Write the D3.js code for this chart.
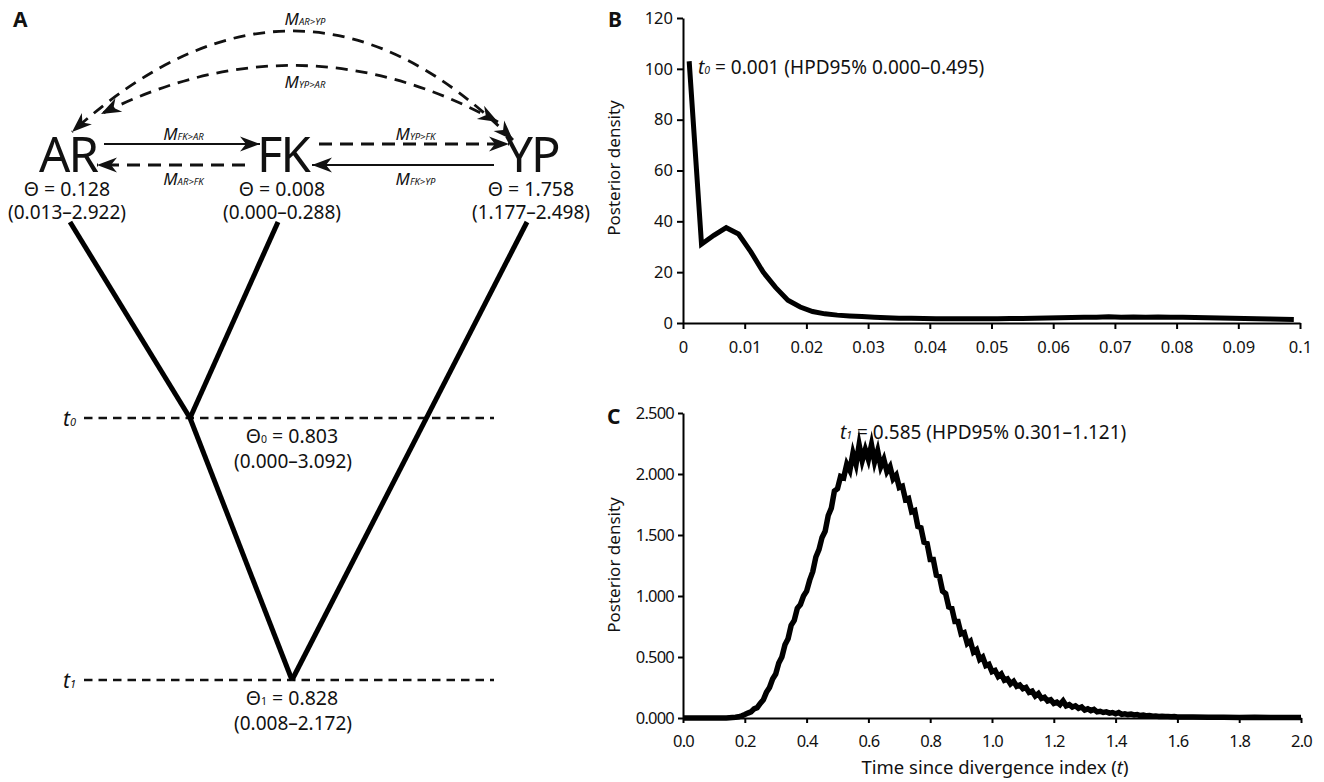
<!DOCTYPE html>
<html>
<head>
<meta charset="utf-8">
<script src="https://cdn.jsdelivr.net/npm/d3@7"></script>
<style>
  body { margin: 0; background: #fff; }
  text { font-family: "Noto Sans", "Open Sans", sans-serif; fill: #111; }
</style>
</head>
<body>
<script>
// ---- panel A: population model ----
const populations = ["AR", "FK", "YP"];
const popTheta = ["0.128", "0.008", "1.758"];
const popThetaHPD = ["(0.013–2.922)", "(0.000–0.288)", "(1.177–2.498)"];
const ancestors = ["0", "1"];
const ancestorTheta = ["0.803", "0.828"];
const ancestorHPD = ["(0.000–3.092)", "(0.008–2.172)"];

// migration arrows: tail -> head, label subscript, dashed?
const migTail = ["AR", "FK", "FK", "YP"];
const migHead = ["FK", "AR", "YP", "FK"];
const migLabel = ["FK>AR", "AR>FK", "YP>FK", "FK>YP"];
const migDashed = [false, true, true, false];
const arcLabel = ["AR>YP", "YP>AR"];

// ---- panel B: t0 posterior ----
const t0Time = [0.001, 0.003, 0.005, 0.007, 0.009, 0.011, 0.013, 0.015, 0.017, 0.019,
  0.021, 0.023, 0.025, 0.027, 0.029, 0.031, 0.033, 0.035, 0.037, 0.039,
  0.041, 0.043, 0.045, 0.047, 0.049, 0.051, 0.053, 0.055, 0.057, 0.059,
  0.061, 0.063, 0.065, 0.067, 0.069, 0.071, 0.073, 0.075, 0.077, 0.079,
  0.081, 0.083, 0.085, 0.087, 0.089, 0.091, 0.093, 0.095, 0.097, 0.099];
const t0Density = [103, 31, 34.5, 37.5, 35, 28, 20, 14, 9, 6.3,
  4.5, 3.6, 3.1, 2.8, 2.6, 2.3, 2.1, 1.9, 1.9, 1.8,
  1.7, 1.7, 1.7, 1.7, 1.7, 1.7, 1.8, 1.8, 1.9, 2.0,
  2.1, 2.2, 2.3, 2.3, 2.5, 2.3, 2.4, 2.3, 2.4, 2.3,
  2.3, 2.2, 2.1, 2.0, 1.9, 1.8, 1.7, 1.6, 1.5, 1.4];
const t0Ticks = [0, 0.01, 0.02, 0.03, 0.04, 0.05, 0.06, 0.07, 0.08, 0.09, 0.1];
const t0TickLabels = ["0", "0.01", "0.02", "0.03", "0.04", "0.05", "0.06", "0.07", "0.08", "0.09", "0.1"];
const t0DensityTicks = [0, 20, 40, 60, 80, 100, 120];

// ---- panel C: t1 posterior ----
const t1Time = [0, 0.05, 0.10,
  0.14, 0.15, 0.16, 0.17, 0.18, 0.19, 0.20, 0.21, 0.22, 0.23, 0.24, 0.25, 0.26, 0.27, 0.28, 0.29,
  0.30, 0.31, 0.32, 0.33, 0.34, 0.35, 0.36, 0.37, 0.38, 0.39, 0.40, 0.41, 0.42, 0.43, 0.44, 0.45,
  0.46, 0.47, 0.48, 0.49, 0.50, 0.51, 0.52, 0.53, 0.54, 0.55, 0.56, 0.57, 0.58, 0.59, 0.60, 0.61,
  0.62, 0.63, 0.64, 0.65, 0.66, 0.67, 0.68, 0.69, 0.70, 0.71, 0.72, 0.73, 0.74, 0.75, 0.76, 0.77,
  0.78, 0.79, 0.80, 0.81, 0.82, 0.83, 0.84, 0.85, 0.86, 0.87, 0.88, 0.89, 0.90, 0.91, 0.92, 0.93,
  0.94, 0.95, 0.96, 0.97, 0.98, 0.99, 1.00, 1.01, 1.02, 1.03, 1.04, 1.05, 1.06, 1.07, 1.08, 1.09,
  1.10, 1.11, 1.12, 1.13, 1.14, 1.15, 1.16, 1.17, 1.18, 1.19, 1.20, 1.21, 1.22, 1.23, 1.24, 1.25,
  1.26, 1.27, 1.28, 1.29, 1.30, 1.31, 1.32, 1.33, 1.34, 1.35, 1.36, 1.37, 1.38, 1.39, 1.40, 1.41,
  1.42, 1.43, 1.44, 1.45, 1.46, 1.47, 1.48, 1.49, 1.50, 1.51, 1.52, 1.53, 1.54, 1.55, 1.56, 1.57,
  1.58, 1.59, 1.60, 1.65, 1.70, 1.75, 1.80, 1.85, 1.90, 1.95, 2.00];
const t1Density = [0, 0, 0,
  0.000, 0.002, 0.004, 0.006, 0.010, 0.018, 0.028, 0.040, 0.050, 0.075, 0.085, 0.12, 0.15, 0.21, 0.25, 0.32,
  0.36, 0.45, 0.50, 0.60, 0.65, 0.76, 0.80, 0.90, 0.93, 1.00, 1.04, 1.13, 1.20, 1.32, 1.38, 1.48,
  1.53, 1.66, 1.72, 1.86, 1.88, 1.98, 1.97, 2.08, 2.03, 2.17, 2.08, 2.24, 2.11, 2.20, 2.12, 2.24,
  2.10, 2.19, 2.06, 2.12, 2.02, 2.06, 1.96, 1.99, 1.89, 1.90, 1.79, 1.80, 1.69, 1.70, 1.57, 1.56,
  1.44, 1.43, 1.30, 1.30, 1.17, 1.16, 1.04, 1.02, 0.91, 0.90, 0.79, 0.79, 0.69, 0.70, 0.61, 0.63,
  0.54, 0.56, 0.48, 0.50, 0.43, 0.44, 0.38, 0.39, 0.34, 0.36, 0.31, 0.32, 0.28, 0.30, 0.26, 0.27,
  0.24, 0.25, 0.21, 0.22, 0.18, 0.20, 0.16, 0.17, 0.14, 0.15, 0.12, 0.13, 0.11, 0.14, 0.10, 0.11,
  0.09, 0.10, 0.08, 0.09, 0.065, 0.075, 0.06, 0.07, 0.05, 0.055, 0.045, 0.05, 0.04, 0.045, 0.035, 0.045,
  0.03, 0.035, 0.028, 0.032, 0.025, 0.028, 0.02, 0.025, 0.018, 0.02, 0.015, 0.017, 0.013, 0.015, 0.012, 0.013,
  0.010, 0.012, 0.009, 0.008, 0.006, 0.007, 0.005, 0.006, 0.004, 0.005, 0.004];
const t1Ticks = [0, 0.2, 0.4, 0.6, 0.8, 1.0, 1.2, 1.4, 1.6, 1.8, 2.0];
const t1DensityTicks = [0, 0.5, 1, 1.5, 2, 2.5];
const t1DensityLabels = ["0.000", "0.500", "1.000", "1.500", "2.000", "2.500"];

const svg = d3.select("body").append("svg")
  .attr("width", 1324)
  .attr("height", 782);

// writes a text made of runs: [text, size, italic]
function runs(g, x, y, parts, anchor) {
  const t = g.append("text")
    .attr("x", x)
    .attr("y", y)
    .attr("text-anchor", anchor || "start");
  parts.forEach(p => {
    t.append("tspan")
      .attr("font-size", p[1])
      .attr("font-style", p[2] ? "italic" : "normal")
      .text(p[0]);
  });
  return t;
}

// ================= Panel A =================
const A = svg.append("g");
A.append("text").attr("x", 13).attr("y", 27)
  .attr("font-size", 21).attr("font-weight", "bold").text("A");

const tipX = d3.scaleOrdinal().domain(populations).range([68, 283, 532]);
const branchX = d3.scaleOrdinal().domain(populations).range([70, 278, 527]);
const nodeX = d3.scaleOrdinal().domain(ancestors).range([190, 292]);
const levelY = d3.scaleOrdinal().domain(["tip", "0", "1"]).range([222, 418, 680]);

// dashed time lines
ancestors.forEach((a, i) => {
  A.append("line")
    .attr("x1", 84).attr("x2", 494)
    .attr("y1", levelY(a)).attr("y2", levelY(a))
    .attr("stroke", "#111").attr("stroke-width", 2.5)
    .attr("stroke-dasharray", "8.5,6");
  runs(A, 63, levelY(a) + 8, [["t", 21, true], [a, 11, true]]);
  runs(A, 292, levelY(a) + 25, [["Θ", 19.5], [a, 10.5], [" = " + ancestorTheta[i], 19.5]], "middle");
  A.append("text").attr("x", 293).attr("y", levelY(a) + 50)
    .attr("text-anchor", "middle").attr("font-size", 19).text(ancestorHPD[i]);
});

// tree branches
const branches = [
  [[branchX("AR"), levelY("tip")], [nodeX("0"), levelY("0")]],
  [[branchX("FK"), levelY("tip")], [nodeX("0"), levelY("0")]],
  [[nodeX("0"), levelY("0")], [nodeX("1"), levelY("1")]],
  [[branchX("YP"), levelY("tip")], [nodeX("1"), levelY("1")]]
];
A.selectAll(".branch").data(branches).enter().append("path")
  .attr("class", "branch")
  .attr("d", d => d3.line()(d))
  .attr("fill", "none").attr("stroke", "#000")
  .attr("stroke-width", 5).attr("stroke-linejoin", "miter");

// population names and thetas
populations.forEach((p, i) => {
  A.append("text").attr("x", tipX(p)).attr("y", 172)
    .attr("text-anchor", "middle").attr("font-size", 49)
    .attr("letter-spacing", -2).text(p);
  A.append("text").attr("x", tipX(p) - 1).attr("y", 196)
    .attr("text-anchor", "middle").attr("font-size", 19.5).text("Θ = " + popTheta[i]);
  A.append("text").attr("x", tipX(p) - 1).attr("y", 219)
    .attr("text-anchor", "middle").attr("font-size", 19).text(popThetaHPD[i]);
});

// arrowhead marker
const defs = svg.append("defs");
defs.append("marker")
  .attr("id", "arrow")
  .attr("viewBox", "-21 -9 22 18")
  .attr("refX", 0).attr("refY", 0)
  .attr("markerWidth", 22).attr("markerHeight", 18)
  .attr("markerUnits", "userSpaceOnUse")
  .attr("orient", "auto-start-reverse")
  .append("path")
  .attr("d", "M0,0 L-20,-7.5 L-14,0 L-20,7.5 Z")
  .attr("fill", "#111");

// straight migration arrows
const laneY = d3.scaleOrdinal().domain(["upper", "lower"]).range([144, 165]);
const halfName = 26;
migTail.forEach((tail, i) => {
  const head = migHead[i];
  const rightward = tipX(head) > tipX(tail);
  const left = Math.min(tipX(tail), tipX(head)) + halfName;
  const right = Math.max(tipX(tail), tipX(head)) - halfName;
  const lane = rightward ? "upper" : "lower";
  const y = laneY(lane);
  const x1 = rightward ? left + 10 : right - 12;
  const x2 = rightward ? right + 3 : left + 3;
  A.append("line")
    .attr("x1", x1).attr("x2", x2).attr("y1", y).attr("y2", y)
    .attr("stroke", "#111")
    .attr("stroke-width", migDashed[i] ? 2.8 : 2.2)
    .attr("stroke-dasharray", migDashed[i] ? "13,8" : null)
    .attr("marker-end", "url(#arrow)");
  const mid = (left + right) / 2 + 8;
  const ly = rightward ? y - 4 : y + 20;
  runs(A, mid, ly, [["M", 17, true], [migLabel[i], 9.5, true]], "middle");
});

// curved migration arrows between AR and YP
const arcs = [
  { p0: [513, 140], c: [300, -74], p1: [72, 132] },
  { p0: [498, 122], c: [300, 13], p1: [101, 114] }
];
arcs.forEach((a, i) => {
  const path = d3.path();
  path.moveTo(a.p0[0], a.p0[1]);
  path.quadraticCurveTo(a.c[0], a.c[1], a.p1[0], a.p1[1]);
  A.append("path")
    .attr("d", path.toString())
    .attr("fill", "none").attr("stroke", "#111")
    .attr("stroke-width", 2.8).attr("stroke-dasharray", "12,8")
    .attr("marker-start", "url(#arrow)")
    .attr("marker-end", "url(#arrow)");
});
runs(A, 305, 25, [["M", 17, true], [arcLabel[0], 9.5, true]], "middle");
runs(A, 305, 88, [["M", 17, true], [arcLabel[1], 9.5, true]], "middle");

// ================= Panel B =================
const xB = d3.scaleLinear().domain([0, 0.1]).range([683, 1300]);
const yB = d3.scaleLinear().domain([0, 120]).range([323, 18]);
const B = svg.append("g");
B.append("text").attr("x", 608).attr("y", 27)
  .attr("font-size", 21).attr("font-weight", "bold").text("B");

const axB = B.append("g").attr("transform", "translate(0,323)")
  .call(d3.axisBottom(xB).tickValues(t0Ticks)
    .tickFormat((d, i) => t0TickLabels[i]).tickSize(6).tickSizeOuter(0).tickPadding(12));
const ayB = B.append("g").attr("transform", "translate(683,0)")
  .call(d3.axisLeft(yB).tickValues(t0DensityTicks).tickSize(6).tickSizeOuter(0).tickPadding(4));
[axB, ayB].forEach(g => {
  g.select(".domain").attr("stroke", "#000").attr("stroke-width", 2);
  g.selectAll(".tick line").attr("stroke", "#000").attr("stroke-width", 2);
  g.selectAll(".tick text").attr("font-family", "Lato, 'Noto Sans', sans-serif")
    .attr("font-size", 16.5).attr("fill", "#111");
});

B.append("path")
  .datum(t0Time.map((t, i) => [t, t0Density[i]]))
  .attr("d", d3.line().x(d => xB(d[0])).y(d => yB(d[1])))
  .attr("fill", "none").attr("stroke", "#000")
  .attr("stroke-width", 5).attr("stroke-linejoin", "miter");

B.append("text")
  .attr("transform", "translate(620,168) rotate(-90)")
  .attr("text-anchor", "middle").attr("font-size", 17).attr("fill", "#333")
  .text("Posterior density");
runs(B, 698, 74, [["t", 19, true], ["0", 10.5, true], [" = 0.001 (HPD95% 0.000–0.495)", 19]]);

// ================= Panel C =================
const xC = d3.scaleLinear().domain([0, 2]).range([683, 1301]);
const yC = d3.scaleLinear().domain([0, 2.5]).range([718, 413]);
const C = svg.append("g");
C.append("text").attr("x", 607).attr("y", 424)
  .attr("font-size", 21).attr("font-weight", "bold").text("C");

const axC = C.append("g").attr("transform", "translate(0,718)")
  .call(d3.axisBottom(xC).tickValues(t1Ticks).tickFormat(d3.format(".1f"))
    .tickSize(5).tickSizeOuter(0).tickPadding(12));
const ayC = C.append("g").attr("transform", "translate(683,0)")
  .call(d3.axisLeft(yC).tickValues(t1DensityTicks)
    .tickFormat((d, i) => t1DensityLabels[i]).tickSize(5).tickSizeOuter(0).tickPadding(4));
[axC, ayC].forEach(g => {
  g.select(".domain").attr("stroke", "#000").attr("stroke-width", 2);
  g.selectAll(".tick line").attr("stroke", "#000").attr("stroke-width", 2);
  g.selectAll(".tick text").attr("font-family", "'Noto Sans', sans-serif")
    .attr("font-size", 16.5).attr("fill", "#111").attr("letter-spacing", -0.8);
});

C.append("path")
  .datum(t1Time.map((t, i) => [t, t1Density[i]]))
  .attr("d", d3.line().x(d => xC(d[0])).y(d => yC(d[1])))
  .attr("fill", "none").attr("stroke", "#000")
  .attr("stroke-width", 5.5).attr("stroke-linejoin", "miter").attr("stroke-miterlimit", 10);

C.append("text")
  .attr("transform", "translate(620,565) rotate(-90)")
  .attr("text-anchor", "middle").attr("font-size", 17).attr("fill", "#333")
  .text("Posterior density");
runs(C, 995, 774, [["Time since divergence index (", 18.5], ["t", 18.5, true], [")", 18.5]], "middle");
runs(C, 840, 439, [["t", 19, true], ["1", 10.5, true], [" = 0.585 (HPD95% 0.301–1.121)", 19]]);
</script>
</body>
</html>
